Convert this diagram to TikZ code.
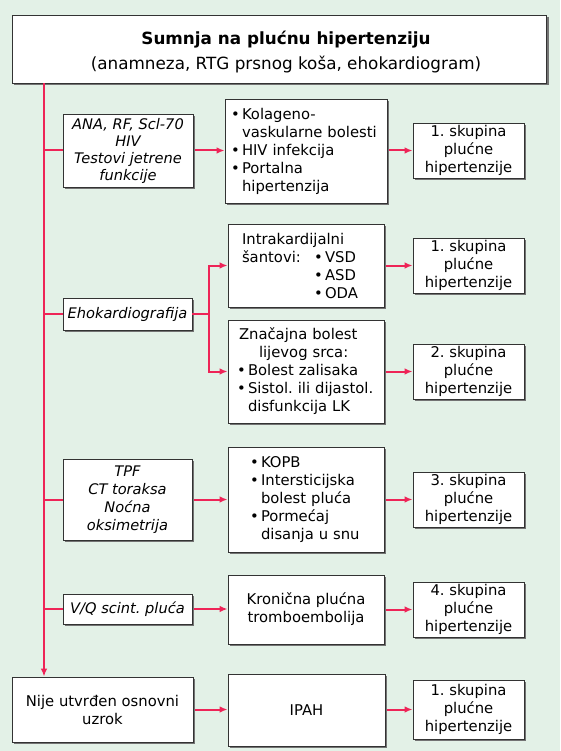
\documentclass[tikz,border=0pt]{standalone}
\usepackage{fontspec}
\setmainfont{DejaVu Sans}
\usetikzlibrary{shadows,arrows.meta}
\definecolor{bg}{HTML}{E3F1E7}
\definecolor{ln}{HTML}{EE2457}
\newcommand\bu{\makebox[11pt][l]{\textbullet}}
\frenchspacing
\begin{document}
\begin{tikzpicture}[x=1pt,y=-1pt,
  box/.style={draw=black!80, line width=0.8pt, fill=white,
    drop shadow={shadow xshift=2pt,shadow yshift=-2pt,fill=black!55,opacity=1},
    inner sep=0pt, align=center, font=\fontsize{14.8}{18}\selectfont},
  lbox/.style={box, font=\fontsize{14.6}{18}\selectfont\itshape},
  listbox/.style={box, align=left, text width=#1},
  rbox/.style={box, minimum width=111pt, minimum height=55pt},
  arr/.style={draw=ln, line width=2pt, -{Latex[length=8pt,width=6.5pt]}, shorten <=2pt},
  ln/.style={draw=ln, line width=2pt}
]
\fill[bg] (0,0) rectangle (560,751);
\useasboundingbox (0,0) rectangle (560,751);

\node[box, minimum width=534pt, minimum height=68pt, drop shadow={shadow xshift=2.5pt,shadow yshift=-2.5pt,fill=black!55,opacity=1}, font=\fontsize{16.8}{25}\selectfont] (title) at (279,49)
  {\hspace*{14pt}\raisebox{-3pt}[\height][\depth]{\begin{tabular}{@{}c@{}}\textbf{Sumnja na plućnu hipertenziju}\\(anamneza, RTG prsnog koša, ehokardiogram)\end{tabular}}};

% left column
\node[lbox, minimum width=130pt, minimum height=73pt, font=\fontsize{14.6}{17}\selectfont\itshape] (l1) at (128,150.5)
  {ANA, RF, Scl-70\\HIV\\Testovi jetrene\\funkcije};
\node[lbox, minimum width=129pt, minimum height=32pt] (l2) at (127.5,314) {Ehokardiografija};
\node[lbox, minimum width=129pt, minimum height=81pt] (l3) at (127.5,499.5)
  {TPF\\CT toraksa\\Noćna\\oksimetrija};
\node[lbox, minimum width=129pt, minimum height=30pt] (l4) at (127.5,609) {V/Q scint. pluća};
\node[box, minimum width=181pt, minimum height=65pt] (nije) at (102.5,709.5)
  {Nije utvrđen osnovni\\uzrok};

% middle column
\node[listbox=150pt, inner xsep=6pt, minimum height=104pt] (m1) at (306,151)
  {\bu Kolageno-\\\hspace*{11pt}vaskularne bolesti\\\bu HIV infekcija\\\bu Portalna\\\hspace*{11pt}hipertenzija};
\node[listbox=128pt, inner xsep=14pt, minimum height=83pt] (m2a) at (306,265.5)
  {Intrakardijalni\\\makebox[72pt][l]{šantovi:}\bu VSD\\\hspace*{72pt}\bu ASD\\\hspace*{72pt}\bu ODA};
\node[listbox=138pt, inner xsep=9pt, minimum height=103pt] (m2b) at (306,371.5)
  {\hspace*{2pt}Značajna bolest\\\hspace*{22pt}lijevog srca:\\\bu Bolest zalisaka\\\bu Sistol. ili dijastol.\\\hspace*{11pt}disfunkcija LK};
\node[listbox=112pt, inner xsep=22pt, minimum height=105pt] (m3) at (306,499.5)
  {\bu KOPB\\\bu Intersticijska\\\hspace*{11pt}bolest pluća\\\bu Pormećaj\\\hspace*{11pt}disanja u snu};
\node[box, minimum width=156pt, minimum height=69pt] (m4) at (306,609.5)
  {Kronična plućna\\tromboembolija};
\node[box, minimum width=157pt, minimum height=72pt] (m5) at (306.5,710) {IPAH};

% right column
\node[rbox] (r1) at (468.5,150.5) {1. skupina\\plućne\\hipertenzije};
\node[rbox] (r2) at (468.5,265.5) {1. skupina\\plućne\\hipertenzije};
\node[rbox] (r3) at (468.5,371.5) {2. skupina\\plućne\\hipertenzije};
\node[rbox] (r4) at (468.5,499.5) {3. skupina\\plućne\\hipertenzije};
\node[rbox] (r5) at (468.5,609.5) {4. skupina\\plućne\\hipertenzije};
\node[rbox, minimum height=59pt] (r6) at (468.5,709.5) {1. skupina\\plućne\\hipertenzije};

% spine
\coordinate (sp) at (44,0);
\coordinate (fk) at (209,314);
\draw[arr, shorten <=0pt] (title.south -| sp) -- (nije.north -| sp);
\foreach \n in {l1,l2,l3,l4} \draw[ln] (\n.west -| sp) -- (\n.west);

% left to middle
\draw[arr] (l1.east) -- (m1.west |- l1.east);
\draw[ln] (l2.east) -- (fk);
\draw[arr, shorten <=0pt] (fk) |- (m2a.west);
\draw[arr, shorten <=0pt] (fk) |- (m2b.west);
\draw[arr] (l3.east) -- (m3.west |- l3.east);
\draw[arr] (l4.east) -- (m4.west |- l4.east);
\draw[arr] (nije.east) -- (m5.west |- nije.east);

% middle to right
\draw[arr] (m1.east |- r1.west) -- (r1.west);
\draw[arr] (m2a.east) -- (r2.west);
\draw[arr] (m2b.east) -- (r3.west);
\draw[arr] (m3.east) -- (r4.west);
\draw[arr] (m4.east) -- (r5.west);
\draw[arr] (m5.east |- r6.west) -- (r6.west);
\end{tikzpicture}
\end{document}
